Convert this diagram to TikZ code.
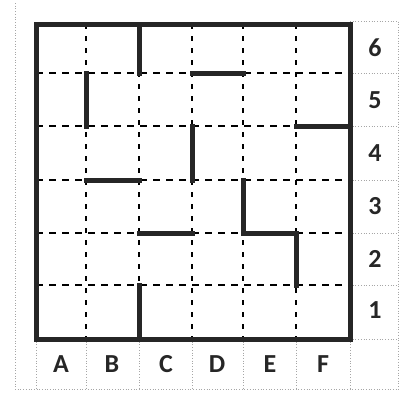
\documentclass[tikz,border=0pt]{standalone}
\usepackage{fontspec}
\setmainfont{Carlito}
\begin{document}
\begin{tikzpicture}[x=1pt,y=-1pt,
  wall/.style={line width=5pt,line cap=rect,black!85},
  guide/.style={line width=1.4pt,dash pattern=on 7pt off 6pt,black},
  vguide/.style={line width=1.6pt,dash pattern=on 5pt off 7pt,black},
  faint/.style={line width=0.7pt,dotted,black!35},
  lab/.style={font=\fontsize{26}{26}\selectfont\bfseries,text=black!85}]
\useasboundingbox (0,0) rectangle (400,394);
% faint outer guides
\draw[faint] (15,3) -- (15,389);
\draw[faint] (15,389) -- (399,389);
\draw[faint] (350,21) -- (398,21) -- (398,389);
\foreach \y in {73,126,180,233,285,339} \draw[faint] (350,\y) -- (398,\y);
\foreach \x in {36,86,139,192,243,296,350} \draw[faint] (\x,339) -- (\x,389);
% dashed inner grid
\foreach \x in {86,139,192,243,296} \draw[vguide] (\x,24) -- (\x,339);
\foreach \y in {73,126,180,233,285} \draw[guide] (36,\y) -- (350,\y);
% outer border
\draw[wall] (36,24) rectangle (350,339);
% walls
\draw[wall] (139,24) -- (139,73);
\draw[wall] (192,73) -- (243,73);
\draw[wall] (86,73) -- (86,126);
\draw[wall] (296,126) -- (350,126);
\draw[wall] (192,126) -- (192,180);
\draw[wall] (86,180) -- (139,180);
\draw[wall] (243,180) -- (243,233) -- (296,233) -- (296,285);
\draw[wall] (139,233) -- (192,233);
\draw[wall] (139,285) -- (139,339);
% labels
\node[lab] (r6) at (375,48) {6};
\node[lab] (r5) at (375,100) {5};
\node[lab] (r4) at (375,153) {4};
\node[lab] (r3) at (375,206) {3};
\node[lab] (r2) at (375,259) {2};
\node[lab] (r1) at (375,310) {1};
\node[lab] (cA) at (61,364) {A};
\node[lab] (cB) at (112,364) {B};
\node[lab] (cC) at (166,364) {C};
\node[lab] (cD) at (217,364) {D};
\node[lab] (cE) at (270,364) {E};
\node[lab] (cF) at (323,364) {F};
\end{tikzpicture}
\end{document}
